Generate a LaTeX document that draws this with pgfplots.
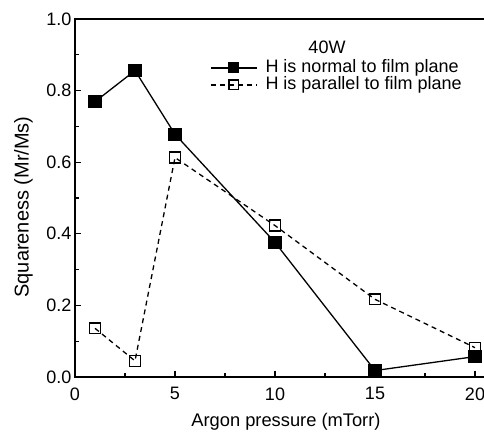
\documentclass[border=0pt]{standalone}
\usepackage{pgfplots}
\pgfplotsset{compat=1.18}
\usetikzlibrary{calc}
\usepackage{fontspec}
\setmainfont{Liberation Sans}

\begin{document}
\begin{tikzpicture}
\begin{axis}[
    name=ax,
    scale only axis,
    width=412pt, height=358pt,
    xmin=0, xmax=20.6, ymin=0, ymax=1.0,
    xtick={0,5,10,15,20}, minor x tick num=1,
    ytick={0,0.2,0.4,0.6,0.8,1.0}, minor y tick num=1,
    tick pos=left, tick align=inside,
    major tick length=6pt, minor tick length=4pt,
    every tick/.style={line width=1.2pt, black},
    axis line style={line width=1.6pt},
    yticklabel style={/pgf/number format/fixed, /pgf/number format/fixed zerofill, /pgf/number format/precision=1},
    /pgf/number format/assume math mode=true,
    ticklabel style={font=\fontsize{18}{20}\selectfont},
    xticklabel style={yshift=-7pt},
    xlabel={Argon pressure (mTorr)},
    ylabel={Squareness (Mr/Ms)},
    xlabel style={font=\fontsize{18.3}{20}\selectfont, at={(axis description cs:0.512,-0.126)}, anchor=center},
    ylabel style={font=\fontsize{20}{22}\selectfont, at={(axis description cs:-0.125,0.475)}, anchor=center},
    legend cell align=left,
    legend style={draw=none, fill=none, at={(axis cs:6.75,0.885)}, anchor=north west,
        font=\fontsize{18}{20}\selectfont, row sep=2pt, inner sep=0pt,
        nodes={inner ysep=0pt, inner xsep=3pt, text height=12pt, text depth=3pt},
        /tikz/every odd column/.append style={column sep=5pt}},
    legend image code/.code={
        \draw[mark repeat=2, mark phase=2, #1, mark size=4.8pt] plot coordinates {(0pt,0pt) (23pt,0pt) (46pt,0pt)};
    },
]
\addplot[black, line width=1.3pt, mark=square*, mark size=5.9pt, mark options={solid}] coordinates {
    (1,0.769) (3,0.856) (5,0.678) (10,0.376) (15,0.018) (20,0.057)
};
\addlegendentry{H is normal to film plane}
\addplot[black, line width=1.3pt, dash pattern=on 5pt off 4pt, mark=square, mark size=5.4pt, mark options={solid, fill=white, line width=1.4pt}] coordinates {
    (1,0.136) (3,0.045) (5,0.613) (10,0.423) (15,0.217) (20,0.082)
};
\addlegendentry{H is parallel to film plane}
\node[font=\fontsize{18}{20}\selectfont] at (axis cs:12.6,0.922) {40W};
\end{axis}
\pgfresetboundingbox
\path[use as bounding box] ($(ax.south west)+(-75pt,-54pt)$) rectangle ($(ax.south west)+(409pt,377pt)$);
\end{tikzpicture}
\end{document}
